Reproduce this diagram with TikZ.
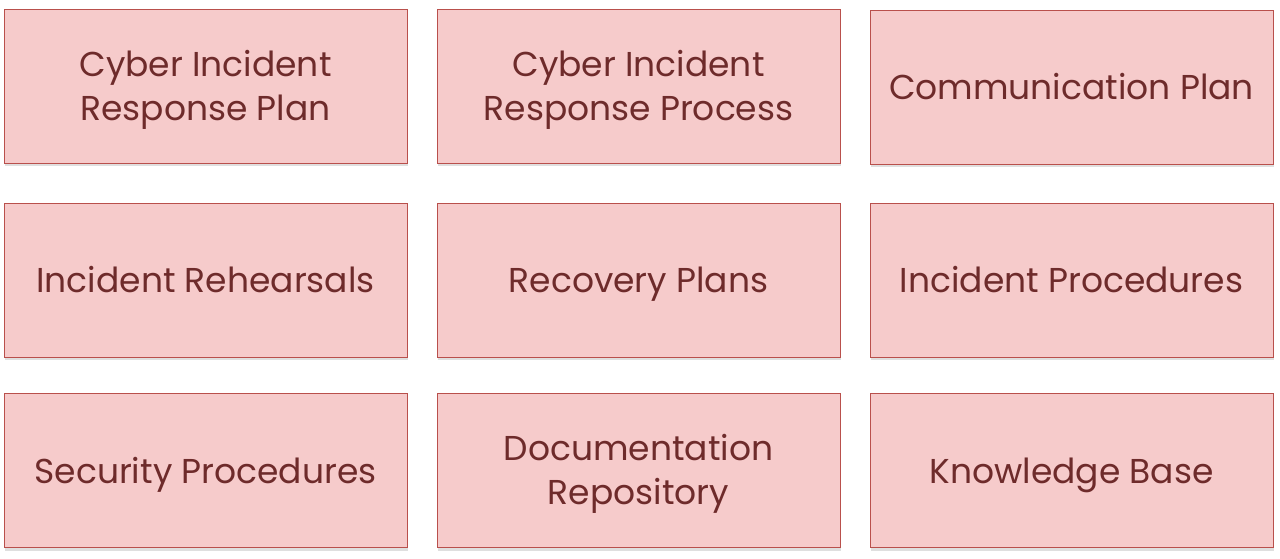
\documentclass[tikz,border=0pt]{standalone}
\usepackage{fontspec}
\setmainfont{Poppins}
\usetikzlibrary{shadows}
\definecolor{boxfill}{HTML}{F6CBCB}
\definecolor{boxline}{HTML}{B9504C}
\definecolor{boxtext}{HTML}{6E2B2B}
\newcommand{\cardstrut}{\rule[-13pt]{0pt}{51pt}}
\tikzset{
  card/.style={draw=boxline, line width=0.9pt, fill=boxfill, minimum width=403pt, minimum height=154pt,
    inner sep=0pt, align=center, text=boxtext, font=\fontsize{34.5}{44}\selectfont,
    drop shadow={shadow xshift=1pt, shadow yshift=-3pt, opacity=0.25}}
}
\begin{document}
\begin{tikzpicture}[x=1pt,y=-1pt]
\useasboundingbox[fill=white] (0,0) rectangle (1280,559);
\node[card] (a) at (205.5,86) {\cardstrut Cyber Incident\\\strut Response Plan};
\node[card] (b) at (638.5,86) {\cardstrut Cyber Incident\\\strut Response Process};
\node[card] (c) at (1071.5,87) {\cardstrut Communication Plan};
\node[card] (d) at (205.5,280) {\cardstrut Incident Rehearsals};
\node[card] (e) at (638.5,280) {\cardstrut Recovery Plans};
\node[card] (f) at (1071.5,280) {\cardstrut Incident Procedures};
\node[card] (g) at (205.5,470.5) {\cardstrut Security Procedures};
\node[card] (h) at (638.5,470.5) {\cardstrut Documentation\\\strut Repository};
\node[card] (i) at (1071.5,470.5) {\cardstrut Knowledge Base};
\end{tikzpicture}
\end{document}
